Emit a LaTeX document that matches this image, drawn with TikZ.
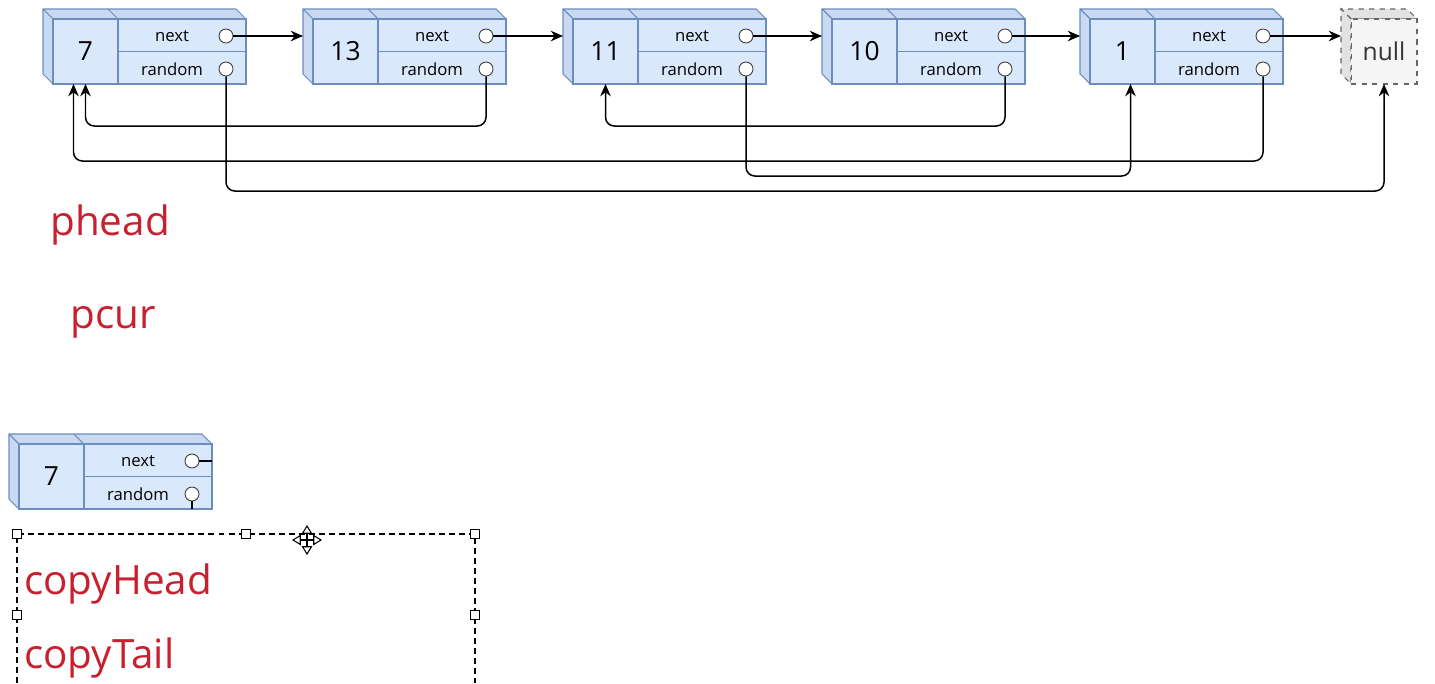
\documentclass[tikz,border=0pt]{standalone}
\usepackage{fontspec}
\setmainfont{Open Sans}
\usetikzlibrary{arrows.meta,calc}

\definecolor{cellfill}{HTML}{DAE8FC}
\definecolor{celldraw}{HTML}{6C8EBF}
\definecolor{cellside}{HTML}{C9D9F2}
\definecolor{nullfill}{HTML}{F5F5F5}
\definecolor{nullside}{HTML}{E2E2E2}
\definecolor{nulldraw}{HTML}{666666}
\definecolor{ptrred}{HTML}{C8202F}

\tikzset{
  boxside/.style={fill=cellside, draw=celldraw, line width=0.6pt, line join=round},
  valcell/.style={draw=celldraw, fill=cellfill, line width=0.6pt, minimum width=1.3cm, minimum height=1.3cm, inner sep=0pt, outer sep=0pt, font=\fontsize{15}{17}\selectfont},
  fieldcell/.style={draw=celldraw, fill=cellfill, line width=0.6pt, minimum width=2.56cm, minimum height=0.65cm, inner sep=0pt, outer sep=0pt},
  fieldtext/.style={inner sep=0pt, font=\fontsize{9.5}{11}\selectfont},
  port/.style={circle, draw=black!75, fill=white, line width=0.5pt, minimum size=0.28cm, inner sep=0pt},
  nullside/.style={fill=nullside, draw=nulldraw, dashed, line width=0.6pt},
  nullbox/.style={draw=nulldraw, fill=nullfill, dashed, line width=0.6pt, minimum width=1.32cm, minimum height=1.3cm, inner sep=0pt, outer sep=0pt, text=black!80, font=\fontsize{14}{16}\selectfont},
  nextlink/.style={-{Stealth[length=7pt,width=6pt]}, line width=0.85pt},
  randlink/.style={-{Stealth[length=7pt,width=6pt]}, line width=0.85pt, rounded corners=5pt},
  ptrlabel/.style={text=ptrred, anchor=base west, inner sep=0pt, font=\fontsize{23}{27}\selectfont},
  handle/.style={draw=black, fill=white, line width=0.6pt, minimum size=0.17cm, inner sep=0pt},
}

% one list node: name, x, y (front top-left), value
\newcommand{\ListNode}[4]{%
  \begin{scope}[shift={(#2,#3)}]
    \filldraw[boxside] (0,0) -- (-10,-10) -- (183,-10) -- (193,0) -- cycle;
    \filldraw[boxside] (0,0) -- (-10,-10) -- (-10,55) -- (0,65) -- cycle;
    \draw[celldraw, line width=0.6pt] (65,0) -- (55,-10);
    \node[valcell] (#1) at (32.5,32.5) {#4};
    \node[fieldcell] (#1-n) at (129,16.25) {};
    \node[fieldcell] (#1-r) at (129,48.75) {};
    \node[fieldtext] (#1-nt) at (119,17) {next};
    \node[fieldtext] (#1-rt) at (119,50) {random};
    \node[port] (#1-nc) at (173,17) {};
    \node[port] (#1-rc) at (173,50) {};
    \coordinate (#1-in) at (-10,17);
  \end{scope}}

\begin{document}
\begin{tikzpicture}[x=0.02cm, y=-0.02cm]
\useasboundingbox (0,0) rectangle (1435,683);

% the list
\ListNode{n7}{53}{19}{7}
\ListNode{n13}{313}{19}{13}
\ListNode{n11}{573}{19}{11}
\ListNode{n10}{832}{19}{10}
\ListNode{n1}{1090}{19}{1}

% null
\filldraw[nullside] (1351,19) -- (1341,9) -- (1407,9) -- (1417,19) -- cycle;
\filldraw[nullside] (1351,19) -- (1341,9) -- (1341,74) -- (1351,84) -- cycle;
\node[nullbox] (null) at (1384,51.5) {null};
\coordinate (null-in) at (1341,36);

% next pointers
\draw[nextlink] (n7-nc) -- (n13-in);
\draw[nextlink] (n13-nc) -- (n11-in);
\draw[nextlink] (n11-nc) -- (n10-in);
\draw[nextlink] (n10-nc) -- (n1-in);
\draw[nextlink] (n1-nc) -- (null-in);

% random pointers
\draw[randlink] (n13-rc) -- ++(0,57) -| (n7);
\draw[randlink] (n10-rc) -- ++(0,57) -| (n11);
\draw[randlink] (n1-rc) -- ++(0,92) -| ($(n7.south)+(-12,0)$);
\draw[randlink] (n11-rc) -- ++(0,107) -| ($(n1.south)+(8,0)$);
\draw[randlink] (n7-rc) -- ++(0,122) -| (null);

% pointer names
\node[ptrlabel] (phead) at (50,235) {phead};
\node[ptrlabel] (pcur) at (70,328) {pcur};

% copied node
\ListNode{c7}{19}{444}{7}
\draw[line width=0.8pt] (c7-nc) -- (c7-nc -| c7-n.east);
\draw[line width=0.8pt] (c7-rc) -- (c7-rc |- c7-r.south);

% selected text box
\draw[line width=0.6pt, dash pattern=on 3.4pt off 2.3pt] (17,683) -- (17,534) -- (475,534) -- (475,683);
\node[handle] (h1) at (17,534) {};
\node[handle] (h2) at (246,534) {};
\node[handle] (h3) at (475,534) {};
\node[handle] (h4) at (17,615) {};
\node[handle] (h5) at (475,615) {};
\draw[line width=0.6pt, {Triangle[open,length=5pt,width=6pt]}-{Triangle[open,length=5pt,width=6pt]}] (292,540) -- (322,540);
\draw[line width=0.6pt, {Triangle[open,length=5pt,width=6pt]}-{Triangle[open,length=5pt,width=6pt]}] (307,525) -- (307,555);
\node[ptrlabel] (copyhead) at (24,594) {copyHead};
\node[ptrlabel] (copytail) at (24,668) {copyTail};
\end{tikzpicture}
\end{document}
